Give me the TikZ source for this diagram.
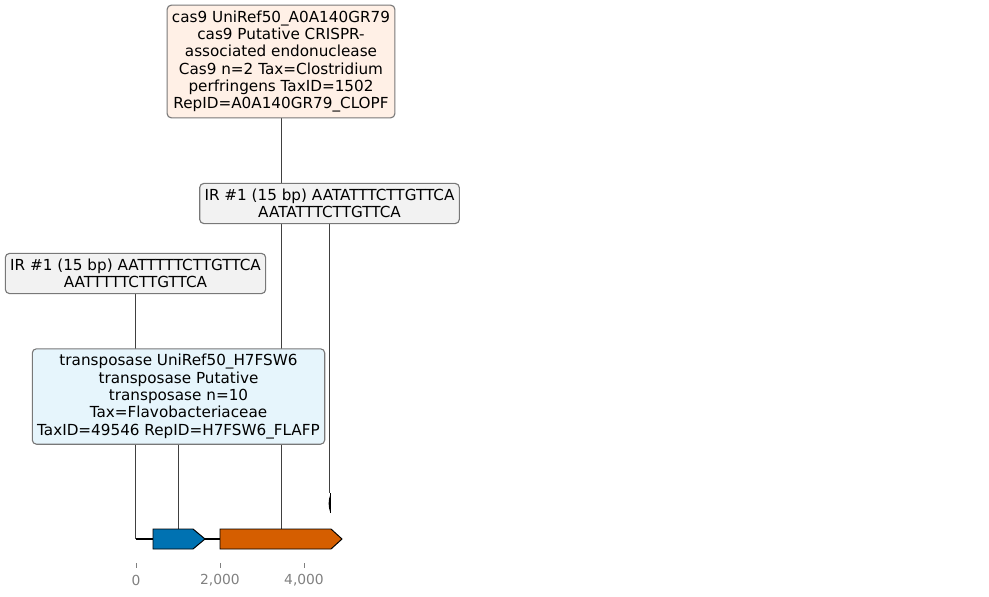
\documentclass[tikz,border=0pt]{standalone}
\usepackage{fontspec}
\setmainfont{DejaVu Sans}
\usepackage{tikz}
\usetikzlibrary{backgrounds}

\definecolor{casfill}{RGB}{255,240,230}
\definecolor{irfill}{RGB}{242,242,242}
\definecolor{tnpfill}{RGB}{230,245,252}
\definecolor{boxline}{RGB}{120,120,120}
\definecolor{geneblue}{RGB}{0,114,178}
\definecolor{geneorange}{RGB}{213,94,0}

\tikzset{
  labelbox/.style={draw=boxline, line width=0.8pt, rounded corners=3pt, align=center,
    inner xsep=3.5pt, inner ysep=4pt, font=\fontsize{11}{12.5}\selectfont},
  pointer/.style={draw=black!75, line width=0.5pt},
  gene/.style={draw=black, line width=0.7pt},
  ticklbl/.style={text=gray, font=\fontsize{10}{12}\selectfont},
}

\begin{document}
\begin{tikzpicture}[x=0.0254cm, y=-0.0254cm]
      \useasboundingbox (0,0) rectangle (989,597);
      % Etiquetas
      \node[labelbox, fill=casfill] (cas9) at (281,61.5) {cas9 UniRef50\_A0A140GR79\\cas9 Putative CRISPR-\\associated endonuclease\\Cas9 n=2 Tax=Clostridium\\perfringens TaxID=1502\\RepID=A0A140GR79\_CLOPF};
      \node[labelbox, fill=irfill] (irb) at (329.5,203.5) {IR \#1 (15 bp) AATATTTCTTGTTCA\\AATATTTCTTGTTCA};
      \node[labelbox, fill=irfill] (ira) at (135.5,273.5) {IR \#1 (15 bp) AATTTTTCTTGTTCA\\AATTTTTCTTGTTCA};
      \node[labelbox, fill=tnpfill] (tnp) at (178.5,396.5) {transposase UniRef50\_H7FSW6\\transposase Putative\\transposase n=10\\Tax=Flavobacteriaceae\\TaxID=49546 RepID=H7FSW6\_FLAFP};

      % Sequencia e genes
      \draw[line width=1.4pt] (136,539) -- (340,539);
      \draw[gene, fill=geneblue] (153,529) -- (193,529) -- (205,539) -- (193,549) -- (153,549) -- cycle;
      \draw[gene, fill=geneorange] (220,529) -- (331,529) -- (342,539) -- (331,549) -- (220,549) -- cycle;
      \fill (330.5,494) .. controls (328,500) and (328,507) .. (330.5,513) -- cycle;
      \draw[line width=1.2pt] (330.5,493) -- (330.5,513);
      \coordinate (tnpgene) at (179,529);
      \coordinate (casgene) at (281,529);
      \coordinate (irasite) at (136,539);
      \coordinate (irbsite) at (330.5,493);

      % Ligacoes
      \begin{scope}[on background layer]
        \draw[pointer] (cas9.south) -- (cas9.south |- casgene);
        \draw[pointer] (irb.south) -- (irb.south |- irbsite);
        \draw[pointer] (ira.south) -- (ira.south |- irasite);
        \draw[pointer] (tnp.south) -- (tnp.south |- tnpgene);
      \end{scope}

      % Eixo
      \foreach \px/\lbl in {136/0, 220/{2,000}, 304/{4,000}} {
        \draw[gray, line width=0.6pt] (\px,563) -- (\px,568);
        \node[ticklbl] at (\px,580) {\lbl};
      }
\end{tikzpicture}
\end{document}
